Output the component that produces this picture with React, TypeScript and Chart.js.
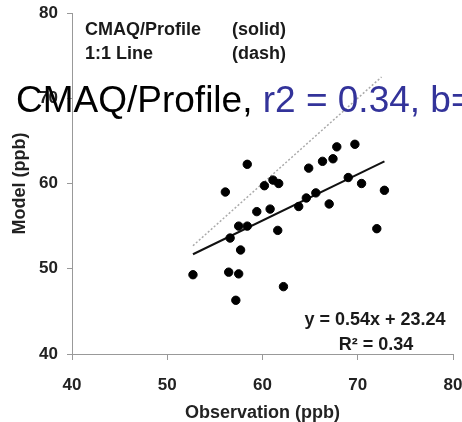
import React, { useEffect, useRef } from "react";
import { Chart, registerables } from "chart.js";

Chart.register(...registerables);

// Observation (x) vs Model (y), ppb
const obsValues = [
  58.4, 56.1, 60.2, 61.1, 61.7, 64.85, 66.3, 67.4, 67.8, 69.7,
  59.4, 60.8, 57.5, 58.4, 56.6, 57.7, 61.6, 63.8, 64.6, 65.6,
  67.0, 69.0, 70.4, 72.8, 72.0, 52.7, 56.45, 57.5, 57.2, 62.2,
];
const modelValues = [
  62.25, 59.0, 59.74, 60.4, 60.0, 61.8, 62.6, 62.9, 64.3, 64.6,
  56.7, 57.0, 55.0, 55.0, 53.6, 52.2, 54.5, 57.3, 58.3, 58.9,
  57.6, 60.7, 60.0, 59.2, 54.7, 49.3, 49.6, 49.4, 46.3, 47.9,
];
const trendX = [52.7, 72.8];
const trendY = [51.7, 62.6];
const identityX = [52.7, 72.5];
const identityY = [52.7, 72.5];
const axisMin = 40;
const axisMax = 80;
const axisStep = 10;
const xTitle = "Observation (ppb)";
const yTitle = "Model (ppb)";
const legendNames = ["CMAQ/Profile", "1:1 Line"];
const legendStyles = ["(solid)", "(dash)"];
const equationLines = ["y = 0.54x + 23.24", "R\u00B2 = 0.34"];
const overlayParts = ["CMAQ/Profile, ", "r2 = 0.34, b="];

const toPoints = (xs: number[], ys: number[]) => xs.map((x, i) => ({ x, y: ys[i] }));

const annotationPlugin = {
  id: "annotations",
  afterDraw(chart: any) {
    const ctx = chart.ctx as CanvasRenderingContext2D;
    ctx.save();
    ctx.textBaseline = "alphabetic";
    // legend-like note
    ctx.fillStyle = "#1a1a1a";
    ctx.font = "bold 18px 'Liberation Sans', Arial, sans-serif";
    ctx.textAlign = "left";
    ctx.fillText(legendNames[0], 85, 35);
    ctx.fillText(legendStyles[0], 232, 35);
    ctx.fillText(legendNames[1], 85, 59);
    ctx.fillText(legendStyles[1], 232, 59);
    // regression equation
    ctx.font = "bold 18px 'Liberation Sans', Arial, sans-serif";
    ctx.textAlign = "center";
    ctx.fillText(equationLines[0], 375, 325);
    ctx.fillText(equationLines[1], 376, 350);
    // large overlay caption
    ctx.font = "37px 'Liberation Sans', Arial, sans-serif";
    ctx.textAlign = "left";
    ctx.fillStyle = "#000000";
    ctx.fillText(overlayParts[0], 16, 112);
    const w = ctx.measureText(overlayParts[0]).width;
    ctx.fillStyle = "#33339a";
    ctx.fillText(overlayParts[1], 16 + w, 112);
    ctx.restore();
  },
};

export default function App() {
  const canvasRef = useRef<HTMLCanvasElement | null>(null);

  useEffect(() => {
    if (!canvasRef.current) return;
    const tickFont = { family: "'Liberation Sans', Arial, sans-serif", size: 17, weight: "bold" as const };
    const titleFont = { family: "'Liberation Sans', Arial, sans-serif", size: 18, weight: "bold" as const, lineHeight: 1 };
    const axisColor = "#999999";
    const chart = new Chart(canvasRef.current, {
      type: "scatter",
      data: {
        datasets: [
          {
            label: "Points",
            data: toPoints(obsValues, modelValues),
            backgroundColor: "#000000",
            borderColor: "#000000",
            pointRadius: 4.2,
            pointHoverRadius: 4.2,
            showLine: false,
          },
          {
            label: "CMAQ/Profile",
            data: toPoints(trendX, trendY),
            borderColor: "#111111",
            borderWidth: 2,
            pointRadius: 0,
            showLine: true,
          },
          {
            label: "1:1 Line",
            data: toPoints(identityX, identityY),
            borderColor: "#aaaaaa",
            borderWidth: 1.5,
            borderDash: [2, 2],
            pointRadius: 0,
            showLine: true,
          },
        ],
      },
      options: {
        responsive: false,
        animation: false,
        devicePixelRatio: 1,
        layout: { padding: { top: 13, right: 9, left: 0, bottom: 0 } },
        plugins: { legend: { display: false }, tooltip: { enabled: false } },
        scales: {
          x: {
            type: "linear",
            min: axisMin,
            max: axisMax,
            afterFit: (scale: any) => {
              scale.height = 68;
              scale.paddingLeft = 0;
              scale.paddingRight = 0;
            },
            ticks: { stepSize: axisStep, color: "#222222", font: tickFont, padding: 15 },
            grid: { drawOnChartArea: false, drawTicks: true, tickLength: 6, color: axisColor },
            border: { color: axisColor, width: 1 },
            title: { display: true, text: xTitle, color: "#222222", font: titleFont, padding: 0 },
          },
          y: {
            type: "linear",
            min: axisMin,
            max: axisMax,
            afterFit: (scale: any) => {
              scale.width = 72;
              scale.paddingTop = 0;
              scale.paddingBottom = 0;
            },
            ticks: { stepSize: axisStep, color: "#222222", font: tickFont, padding: 9 },
            grid: { drawOnChartArea: false, drawTicks: true, tickLength: 5, color: axisColor },
            border: { color: axisColor, width: 1 },
            title: { display: true, text: yTitle, color: "#222222", font: titleFont, padding: { top: 11, bottom: 0 } },
          },
        },
      },
      plugins: [annotationPlugin],
    });
    return () => chart.destroy();
  }, []);

  return (
    <div style={{ position: "absolute", left: 0, top: 0, width: 462, height: 422, background: "#ffffff" }}>
      <canvas ref={canvasRef} width={462} height={422} />
    </div>
  );
}
